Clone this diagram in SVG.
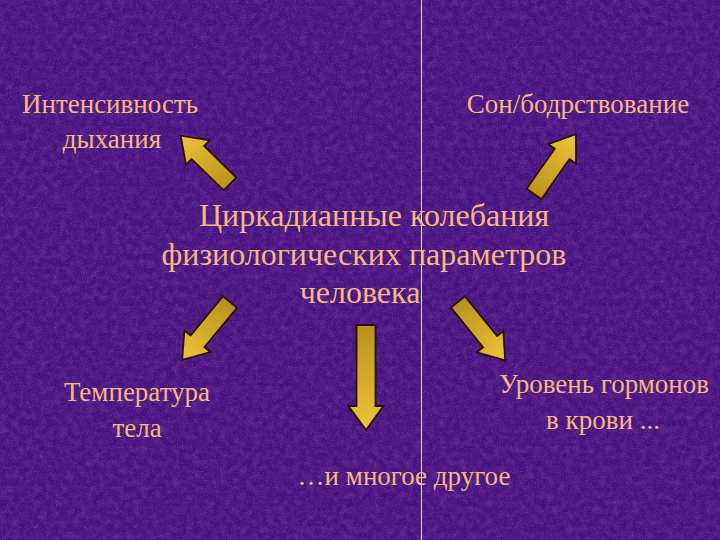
<svg xmlns="http://www.w3.org/2000/svg" width="720" height="540" viewBox="0 0 720 540">
  <defs>
    <filter id="tex" x="0" y="0" width="100%" height="100%">
      <feTurbulence type="fractalNoise" baseFrequency="0.15" numOctaves="3" seed="7" result="n"/>
      <feColorMatrix in="n" type="matrix" values="0 0 0 0 0.12  0 0 0 0 0.02  0 0 0 0 0.28  1.8 0 0 0 -0.65"/>
    </filter>
    <filter id="tex2" x="0" y="0" width="100%" height="100%">
      <feTurbulence type="fractalNoise" baseFrequency="0.8" numOctaves="2" seed="3" result="n"/>
      <feColorMatrix in="n" type="matrix" values="0 0 0 0 0.42  0 0 0 0 0.12  0 0 0 0 0.75  0 1.0 0 0 -0.52"/>
    </filter>
    <linearGradient id="gold" x1="0" y1="0" x2="1" y2="0">
      <stop offset="0" stop-color="#b8921e"/>
      <stop offset="0.6" stop-color="#d8b02c"/>
      <stop offset="1" stop-color="#ecc440"/>
    </linearGradient>
    <style>
      .t { font-family: "Liberation Serif", "Times New Roman", serif; fill: #f6b97c; text-anchor: middle; }
      .title { font-size: 32px; }
      .lab { font-size: 27px; }
      .arr { fill: url(#gold); stroke: #2a1006; stroke-width: 1.8; stroke-linejoin: miter; }
    </style>
  </defs>

  <rect width="720" height="540" fill="#45137e"/>
  <rect width="720" height="540" filter="url(#tex)"/>
  <rect width="720" height="540" filter="url(#tex2)"/>
  <line x1="421.5" y1="0" x2="421.5" y2="540" stroke="#e8dcf0" stroke-width="1"/>

  <g id="connectors">
    <path class="arr" transform="translate(230,184) rotate(-135.6)" d="M0,-9 L45,-9 L45,-17 L69,0 L45,17 L45,9 L0,9 Z"/>
    <path class="arr" transform="translate(534,194) rotate(-55)" d="M0,-9 L49,-9 L49,-17 L73,0 L49,17 L49,9 L0,9 Z"/>
    <path class="arr" transform="translate(230,302) rotate(129.6)" d="M0,-9 L51,-9 L51,-17 L75,0 L51,17 L51,9 L0,9 Z"/>
    <path class="arr" transform="translate(366,325) rotate(90)" d="M0,-9.5 L81,-9.5 L81,-17.5 L105,0 L81,17.5 L81,9.5 L0,9.5 Z"/>
    <path class="arr" transform="translate(458,302) rotate(51)" d="M0,-9 L51,-9 L51,-17 L75,0 L51,17 L51,9 L0,9 Z"/>
  </g>

  <g id="center">
    <text class="t title" x="374" y="226">Циркадианные колебания</text>
    <text class="t title" x="364" y="265">физиологических параметров</text>
    <text class="t title" x="360" y="303">человека</text>
  </g>
  <g id="breathing">
    <text class="t lab" x="110" y="113">Интенсивность</text>
    <text class="t lab" x="112" y="148">дыхания</text>
  </g>
  <g id="sleep">
    <text class="t lab" x="578" y="113">Сон/бодрствование</text>
  </g>
  <g id="temperature">
    <text class="t lab" x="137" y="401">Температура</text>
    <text class="t lab" x="137" y="437">тела</text>
  </g>
  <g id="hormones">
    <text class="t lab" x="604" y="393">Уровень гормонов</text>
    <text class="t lab" x="603" y="429">в крови ...</text>
  </g>
  <g id="other">
    <text class="t lab" x="404" y="485">…и многое другое</text>
  </g>
</svg>
